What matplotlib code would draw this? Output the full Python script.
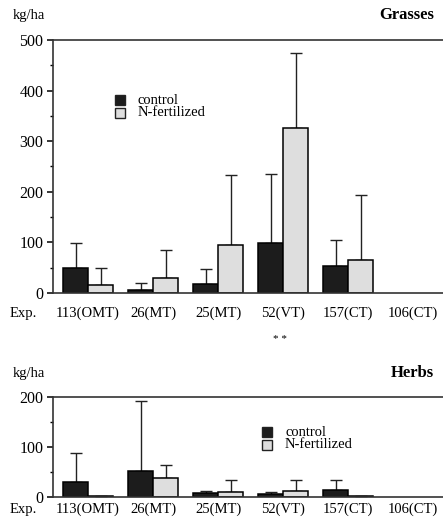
import numpy as np
import matplotlib
matplotlib.use("Agg")
from matplotlib import pyplot as plt
from matplotlib.patches import Rectangle
from matplotlib.transforms import offset_copy

plt.rcParams['font.family'] = ['Liberation Serif', 'DejaVu Serif']

experiments = ['113(OMT)', '26(MT)', '25(MT)', '52(VT)', '157(CT)', '106(CT)']

# grasses, kg/ha (mean and + error)
grass_control = np.array([50, 5, 18, 98, 53, np.nan])
grass_control_err = np.array([48, 14, 29, 137, 51, np.nan])
grass_fert = np.array([16, 30, 94, 326, 66, np.nan])
grass_fert_err = np.array([34, 55, 140, 148, 127, np.nan])

# herbs, kg/ha
herb_control = np.array([30, 53, 8, 6, 14, np.nan])
herb_control_err = np.array([59, 140, 5, 4, 21, np.nan])
herb_fert = np.array([3, 38, 11, 13, 3, np.nan])
herb_fert_err = np.array([np.nan, 27, 24, 22, np.nan, np.nan])

W, H = 443, 528
fig = plt.figure(figsize=(W / 100, H / 100), dpi=100)


def px(x, y):
    return x / W, 1 - y / H


def panel(rect, ctrl, ctrl_err, fert, fert_err, ymax, key_xy, title, ty, xpad):
    ax = fig.add_axes(rect)
    x = np.arange(len(experiments))
    w = 0.385
    ax.bar(x - w / 2, ctrl, w, color='#1c1c1c', edgecolor='black', linewidth=1.1, zorder=2)
    ax.bar(x + w / 2, fert, w, color='#dedede', edgecolor='black', linewidth=1.1, zorder=2)
    zero = np.zeros(len(x))
    ax.errorbar(x - w / 2, ctrl, yerr=[zero, ctrl_err], fmt='none', ecolor='#222222',
                elinewidth=1.0, capsize=4, capthick=1.0, zorder=1)
    ax.errorbar(x + w / 2, fert, yerr=[zero, fert_err], fmt='none', ecolor='#222222',
                elinewidth=1.0, capsize=4, capthick=1.0, zorder=1)
    ax.set_xlim(-0.54, 5.46)
    ax.set_ylim(0, ymax)
    ax.set_yticks(np.arange(0, ymax + 1, 100))
    ax.set_yticks(np.arange(50, ymax, 50), minor=True)
    ax.tick_params(axis='y', direction='out', length=4, width=1.1, pad=3, labelsize=11.5)
    ax.tick_params(axis='y', which='minor', length=2.5, width=1.0)
    ax.set_xticks(x)
    ax.set_xticklabels(experiments)
    ax.tick_params(axis='x', length=0, pad=xpad, labelsize=10.5)
    ax.spines['right'].set_visible(False)
    for s in ['left', 'top', 'bottom']:
        ax.spines[s].set_linewidth(1.2)
        ax.spines[s].set_color('#333333')
    tr = offset_copy(ax.get_xaxis_transform(), fig=fig, y=-xpad, units='points')
    ax.text(-1.0, 0, 'Exp.', transform=tr, ha='center', va='top', fontsize=10.5)
    # keyed legend
    kx, ky = key_xy
    for i, (c, lab) in enumerate([('#1c1c1c', 'control'), ('#dedede', 'N-fertilized')]):
        yy = ky + i * 13
        fig.patches.append(Rectangle(px(kx, yy + 5), 10 / W, 10 / H, transform=fig.transFigure,
                                     facecolor=c, edgecolor='#222222', linewidth=1.0))
        fig.text(*px(kx + 23, yy), lab, fontsize=10.5, va='center', ha='left')
    fig.text(*px(13, ty), 'kg/ha', fontsize=10.5, va='center', ha='left')
    fig.text(*px(434, ty), title, fontsize=12, fontweight='bold', va='center', ha='right')
    return ax


ax1 = panel([53 / W, 1 - 293 / H, 1 - 53 / W, 253 / H], grass_control, grass_control_err,
            grass_fert, grass_fert_err, 500, (115, 100), 'Grasses', 15, 10)
ax2 = panel([53 / W, 1 - 497 / H, 1 - 53 / W, 100 / H], herb_control, herb_control_err,
            herb_fert, herb_fert_err, 200, (262, 432), 'Herbs', 373, 4)

fig.text(*px(280, 340), '* *', fontsize=8, ha='center', va='center')

fig.savefig('out.png', dpi=100)
